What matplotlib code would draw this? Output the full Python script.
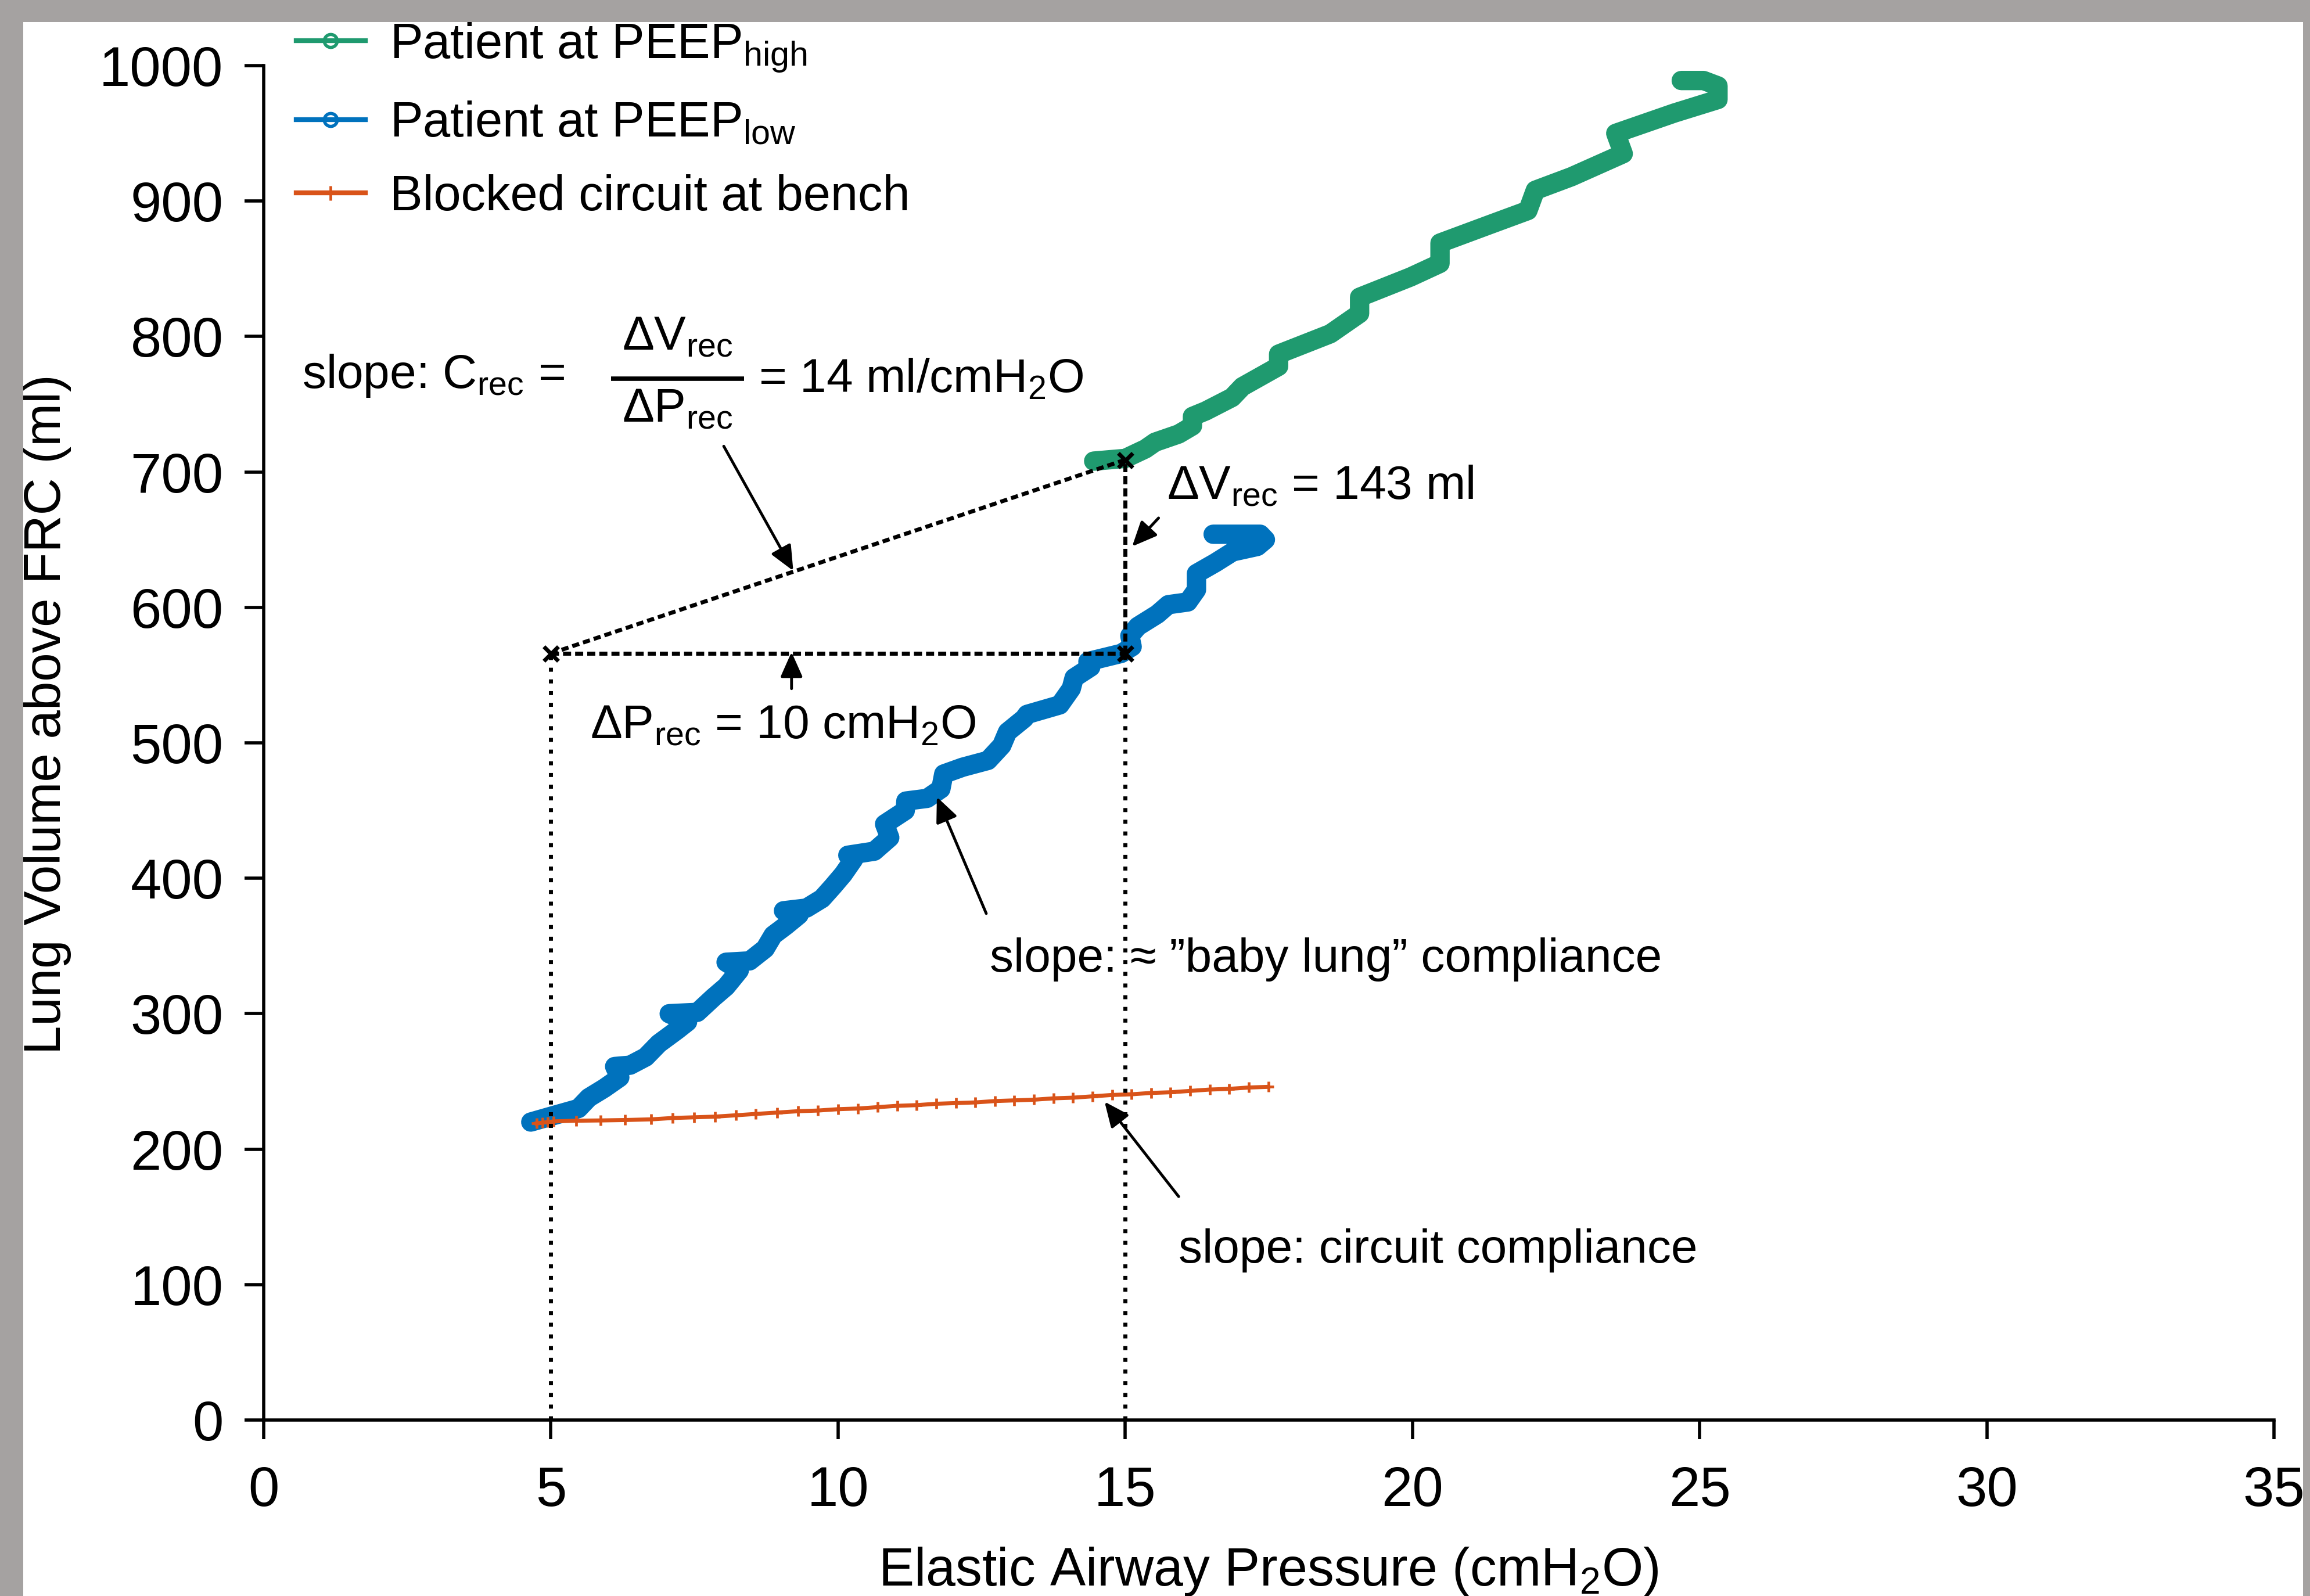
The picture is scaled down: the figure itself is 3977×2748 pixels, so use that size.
import matplotlib
matplotlib.use('Agg')
import matplotlib.pyplot as plt
from matplotlib.lines import Line2D
from matplotlib.patches import Rectangle

plt.rcParams['font.family'] = ['Liberation Sans', 'DejaVu Sans']
plt.rcParams['mathtext.fontset'] = 'custom'
plt.rcParams['mathtext.rm'] = 'Liberation Sans'
plt.rcParams['mathtext.it'] = 'Liberation Sans:italic'
plt.rcParams['mathtext.bf'] = 'Liberation Sans:bold'

# ---------------- data ----------------
peep_low_x = [4.65, 4.98, 5.48, 5.66, 5.93, 6.20, 6.11, 6.38, 6.65, 6.88, 7.20, 7.38, 7.06,
              7.55, 7.83, 8.05, 8.28, 8.05, 8.46, 8.73, 8.87, 9.09, 9.32, 9.05, 9.45, 9.72,
              9.91, 10.09, 10.27, 10.17, 10.63, 10.90, 10.81, 11.17, 11.18, 11.55, 11.79,
              11.84, 12.17, 12.61, 12.85, 12.95, 13.24, 13.29, 13.86, 14.06, 14.11, 14.40,
              14.35, 14.93, 15.12, 15.08, 15.22, 15.56, 15.75, 16.09, 16.24, 16.24, 16.57,
              16.87, 17.30, 17.44, 17.35, 16.53]
peep_low_y = [220, 224, 230, 238, 245, 253, 261, 262, 268, 278, 288, 294, 300,
              301, 312, 320, 332, 338, 339, 348, 358, 365, 373, 376, 378, 385,
              394, 403, 414, 417, 420, 430, 440, 450, 457, 459, 466,
              477, 482, 487, 498, 508, 518, 521, 528, 540, 548, 556,
              560, 566, 571, 579, 586, 595, 602, 604, 613, 625, 633,
              641, 645, 650, 654, 654]

peep_high_x = [14.45, 15.00, 15.35, 15.52, 15.93, 16.17, 16.17, 16.40, 16.86, 17.04, 17.67,
               17.67, 18.57, 19.08, 19.08, 19.97, 20.48, 20.48, 21.37, 22.01, 22.14, 22.77,
               23.67, 23.54, 24.56, 25.32, 25.32, 25.07, 24.68]
peep_high_y = [708, 710, 717, 722, 728, 734, 741, 745, 755, 763, 778,
               787, 802, 817, 829, 844, 854, 869, 883, 893, 908, 918,
               935, 950, 965, 975, 985, 989, 989]

bench_x = [4.75, 4.85, 4.95, 5.05, 5.44, 5.87, 6.29, 6.75, 7.12, 7.49, 7.86, 8.22, 8.57,
           8.94, 9.30, 9.65, 10.00, 10.35, 10.69, 11.03, 11.37, 11.71, 12.05, 12.39, 12.73,
           13.07, 13.41, 13.75, 14.09, 14.43, 14.77, 15.11, 15.45, 15.79, 16.13, 16.47,
           16.81, 17.15, 17.49]
bench_y = [219, 219.5, 220, 220.5, 221, 221.2, 221.5, 222, 223, 223.5, 224, 225, 226,
           227, 228, 228.5, 229.5, 230, 231, 232, 232.5, 233.5, 234, 234.5, 235.5,
           236, 236.5, 237.5, 238, 239, 240, 240.5, 241.5, 242, 243, 244,
           244.5, 245.5, 246]

# recruitment construction
p_rec = [5, 15]          # cmH2O
v_rec = [566, 709]       # ml

x_ticks = [0, 5, 10, 15, 20, 25, 30, 35]
y_ticks = [0, 100, 200, 300, 400, 500, 600, 700, 800, 900, 1000]

series_labels = ['Patient at PEEP$_{\\mathrm{high}}$',
                 'Patient at PEEP$_{\\mathrm{low}}$',
                 'Blocked circuit at bench']

c_green = '#1f9a6f'
c_blue = '#0072bd'
c_orange = '#d95319'

# ---------------- figure ----------------
W, H = 3977, 2748
DPI = 100
fig = plt.figure(figsize=(W / DPI, H / DPI), dpi=DPI)
fig.patch.set_facecolor('white')
ax = fig.add_axes([454 / W, 1 - 2445 / H, (3915 - 454) / W, (2445 - 113) / H])
ax.set_facecolor('none')

ax.plot(peep_high_x, peep_high_y, color=c_green, lw=24,
        solid_joinstyle='round', solid_capstyle='round', zorder=3)
ax.plot(peep_low_x, peep_low_y, color=c_blue, lw=24,
        solid_joinstyle='round', solid_capstyle='round', zorder=3)
ax.plot(bench_x, bench_y, color=c_orange, lw=5, marker='+', ms=13, mew=3.4, zorder=4)

# construction lines
kw = dict(color='k', lw=5, zorder=5)
ax.plot([p_rec[0], p_rec[0]], [0, v_rec[0]], ls=(0, (1, 1.9)), **kw)
ax.plot([p_rec[1], p_rec[1]], [0, v_rec[0]], ls=(0, (1, 1.9)), **kw)
ax.plot([p_rec[0], p_rec[1]], [v_rec[0], v_rec[0]], ls=(0, (2.0, 1.0)), **kw)
ax.plot([p_rec[1], p_rec[1]], [v_rec[0], v_rec[1]], ls=(0, (2.0, 1.0)), **kw)
ax.plot([p_rec[0], p_rec[1]], [v_rec[0], v_rec[1]], ls=(0, (1.8, 1.0)), **kw)
ax.plot([p_rec[0], p_rec[1], p_rec[1]], [v_rec[0], v_rec[0], v_rec[1]],
        ls='none', marker='x', color='k', ms=18, mew=5, zorder=6)

# axes styling
ax.set_xlim(0, 35)
ax.set_ylim(0, 1000)
ax.set_xticks(x_ticks)
ax.set_yticks(y_ticks)
for s in ['top', 'right']:
    ax.spines[s].set_visible(False)
for s in ['left', 'bottom']:
    ax.spines[s].set_linewidth(4)
ax.tick_params(direction='out', length=24, width=4, labelsize=69)
ax.tick_params(axis='x', pad=32)
ax.tick_params(axis='y', pad=26)

fig.text(2184 / W, 1 - 2730 / H, 'Elastic Airway Pressure (cmH$_2$O)',
         ha='center', va='baseline', fontsize=66)
fig.text(104 / W, 1 - 1230 / H, 'Lung Volume above FRC (ml)', rotation=90,
         rotation_mode='anchor', ha='center', va='baseline', fontsize=64)

# legend
handles = [Line2D([], [], color=c_green, lw=6, marker='o', ms=16, mfc='none', mew=4),
           Line2D([], [], color=c_blue, lw=6, marker='o', ms=16, mfc='none', mew=4),
           Line2D([], [], color=c_orange, lw=6, marker='+', ms=18, mew=3.4)]
ax.legend(handles, series_labels, loc='upper left', bbox_to_anchor=(510 / W, 1 - 36 / H),
          bbox_transform=fig.transFigure, frameon=False, borderpad=0, borderaxespad=0,
          handlelength=1.4, handletextpad=0.5, labelspacing=0.55, fontsize=61)

# annotations
fs = 59
ax.text(0.67, 762, 'slope: C$_{\\mathrm{rec}}$ =', fontsize=fs, va='baseline', ha='left')
ax.text(7.20, 790, '\u0394V$_{\\mathrm{rec}}$', fontsize=fs, va='baseline', ha='center')
ax.text(7.20, 737, '\u0394P$_{\\mathrm{rec}}$', fontsize=fs, va='baseline', ha='center')
ax.plot([6.05, 8.36], [769, 769], color='k', lw=5.5, solid_capstyle='butt')
ax.text(8.62, 759, '= 14 ml/cmH$_2$O', fontsize=fs, va='baseline', ha='left')
ax.text(15.73, 680, '\u0394V$_{\\mathrm{rec}}$ = 143 ml', fontsize=fs, va='baseline', ha='left')
ax.text(5.68, 503, '\u0394P$_{\\mathrm{rec}}$ = 10 cmH$_2$O', fontsize=fs, va='baseline', ha='left')
ax.text(12.64, 331, 'slope: \u2248 \u201dbaby lung\u201d compliance', fontsize=fs,
        va='baseline', ha='left')
ax.text(15.93, 116, 'slope: circuit compliance', fontsize=fs, va='baseline', ha='left')

arrows = [((9.22, 627), (8.01, 719)),
          ((15.12, 645), (15.58, 666)),
          ((9.19, 567), (9.19, 540)),
          ((11.72, 460), (12.58, 374)),
          ((14.64, 235), (15.93, 165))]
for tip, tail in arrows:
    ax.annotate('', xy=tip, xytext=tail,
                arrowprops=dict(arrowstyle='-|>,head_length=0.45,head_width=0.2',
                                color='k', lw=3.5, shrinkA=0, shrinkB=0, mutation_scale=58),
                zorder=7)

# grey frame of the scanned figure
gray = '#a5a2a1'
for (x0, y0, w, h) in [(0, 0, W, 38), (0, 0, 40, H), (3965, 0, W - 3965, H)]:
    fig.add_artist(Rectangle((x0 / W, 1 - (y0 + h) / H), w / W, h / H,
                             transform=fig.transFigure, facecolor=gray,
                             edgecolor='none', zorder=20))

fig.savefig('out.png', dpi=DPI)
